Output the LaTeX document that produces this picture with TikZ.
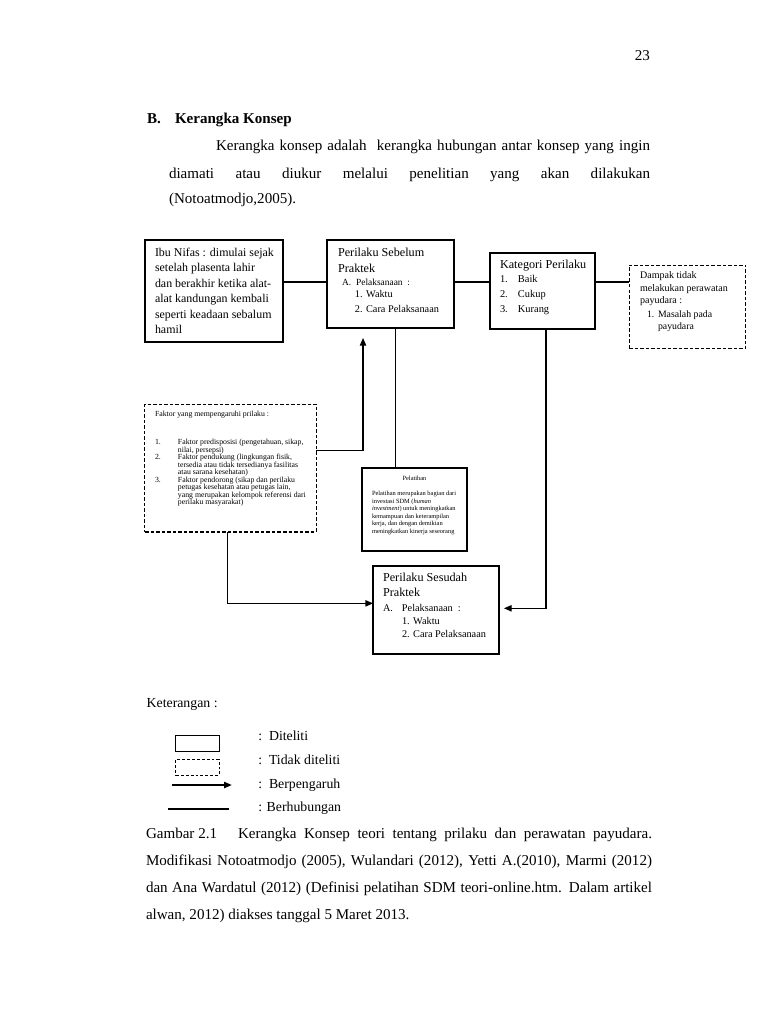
\documentclass[tikz,border=0pt]{standalone}
\usepackage{fontspec}
\setmainfont{Liberation Serif}
\usetikzlibrary{arrows.meta}
\newcommand\fs[2]{\fontsize{#1}{#2}\selectfont}
% first line of a box: #1 baseline from top, #2 size, #3 skip, #4 indent, #5 text
\newcommand\fl[5]{\lineskiplimit=-100pt\lineskip=0pt\vspace*{\dimexpr#1-10pt\relax}{\fontsize{#2}{#3}\selectfont\noindent\rule{0pt}{10pt}\hspace*{#4}\mbox{#5}\par}}
% further line: #1 size, #2 baseline distance, #3 indent, #4 text
\newcommand\tl[4]{{\fontsize{#1}{#2}\selectfont\noindent\hspace*{#3}\mbox{#4}\par}}
\newcommand\bx[3]{\parbox[c][#2][t]{#1}{#3}}
\begin{document}
\begin{tikzpicture}[x=0.797pt,y=-0.797pt,
  box/.style={draw, line width=1pt, inner sep=0pt, outer sep=0pt},
  dbox/.style={draw, line width=0.8pt, dash pattern=on 2.8pt off 1.6pt, inner sep=0pt, outer sep=0pt},
  conn/.style={line width=0.85pt},
  arr/.style={line width=0.85pt, -{Triangle[length=6pt,width=5pt]}},
  txt/.style={inner sep=0pt, outer sep=0pt, anchor=base west, font=\fs{12}{14}},
  txtb/.style={txt, font=\bfseries\fs{12}{14}},
  leg/.style={txt, font=\fs{11}{13}}]
\useasboundingbox (0,0) rectangle (768,1024);
\fill[white] (0,0) rectangle (768,1024);

% page text
\node[txt, anchor=base east] (pg) at (650,60) {23};
\node[txtb] (hB) at (147,123.3) {B.};
\node[txtb] (hK) at (175,123.3) {Kerangka Konsep};
\node[txt] (p1) at (216,150.7) {\makebox[345.9pt][s]{Kerangka konsep adalah \ kerangka hubungan antar konsep yang ingin}};
\node[txt] (p2) at (169,178) {\makebox[383.4pt][s]{diamati atau diukur melalui penelitian yang akan dilakukan}};
\node[txt] (p3) at (169,203) {(Notoatmodjo,2005).};

% boxes
\node[box] (ibu) at (214,291) {\bx{110pt}{81.3pt}{%
  \fl{12.75pt}{9.5}{12.4}{8pt}{Ibu Nifas : dimulai sejak}
  \tl{9.5}{12.4}{8pt}{setelah plasenta lahir}
  \tl{9.5}{12.4}{8pt}{dan berakhir ketika alat-}
  \tl{9.5}{12.4}{8pt}{alat kandungan kembali}
  \tl{9.5}{12.4}{8pt}{seperti keadaan sebalum}
  \tl{9.5}{12.4}{8pt}{hamil}}};

\node[box] (sebelum) at (390.5,284) {\bx{101.2pt}{70.1pt}{%
  \fl{12.75pt}{9.7}{12.75}{8.8pt}{Perilaku Sebelum}
  \tl{9.7}{12.75}{8.8pt}{Praktek}
  \tl{7.5}{10.4}{12pt}{\makebox[11.2pt][l]{A.}Pelaksanaan \ :}
  \tl{8.2}{10.3}{22.3pt}{1. Waktu}
  \tl{8.2}{11.2}{22.3pt}{2. Cara Pelaksanaan}}};

\node[box] (kategori) at (542.5,291) {\bx{83.7pt}{60.6pt}{%
  \fl{12pt}{9.7}{11.7}{8pt}{Kategori Perilaku}
  \tl{8.3}{11.4}{8pt}{\makebox[14.3pt][l]{1.}Baik}
  \tl{8.3}{12}{8pt}{\makebox[14.3pt][l]{2.}Cukup}
  \tl{8.3}{11.9}{8pt}{\makebox[14.3pt][l]{3.}Kurang}}};

\node[dbox] (dampak) at (687.5,307) {\bx{93.2pt}{66.9pt}{%
  \fl{10.4pt}{8}{10}{8.8pt}{Dampak tidak}
  \tl{8}{10.3}{8.8pt}{melakukan perawatan}
  \tl{8}{9.6}{8.8pt}{payudara :}
  \tl{7.8}{11.9}{14.4pt}{\makebox[8.7pt][l]{1.}Masalah pada}
  \tl{7.8}{8.8}{23.1pt}{payudara}}};

\node[dbox] (faktor) at (230.5,468) {\bx{136.3pt}{102pt}{%
  \fl{10.1pt}{6.2}{6}{8pt}{Faktor yang mempengaruhi prilaku :}
  \tl{6.2}{22.3}{8pt}{\makebox[18.3pt][l]{1.}Faktor predisposisi (pengetahuan, sikap,}
  \tl{6.2}{6}{26.3pt}{nilai, persepsi)}
  \tl{6.2}{6}{8pt}{\makebox[18.3pt][l]{2.}Faktor pendukung (lingkungan fisik,}
  \tl{6.2}{6}{26.3pt}{tersedia atau tidak tersedianya fasilitas}
  \tl{6.2}{6}{26.3pt}{atau sarana kesehatan)}
  \tl{6.2}{6}{8pt}{\makebox[18.3pt][l]{3.}Faktor pendorong (sikap dan perilaku}
  \tl{6.2}{6}{26.3pt}{petugas kesehatan atau petugas lain,}
  \tl{6.2}{6}{26.3pt}{yang merupakan kelompok referensi dari}
  \tl{6.2}{6}{26.3pt}{perilaku masyarakat)}}};

\node[box] (pelatihan) at (414.5,509.5) {\bx{83.7pt}{66.1pt}{%
  \fl{9.6pt}{5.1}{6}{0pt}{\makebox[83.7pt][c]{Pelatihan}}
  \tl{5.1}{12.5}{8pt}{Pelatihan merupakan bagian dari}
  \tl{5.1}{5.94}{8pt}{investasi SDM (\textit{human}}
  \tl{5.1}{5.94}{8pt}{\textit{investment}) untuk meningkatkan}
  \tl{5.1}{5.94}{8pt}{kemampuan dan keterampilan}
  \tl{5.1}{5.94}{8pt}{kerja, dan dengan demikian}
  \tl{5.1}{5.94}{8pt}{meningkatkan kinerja seseorang}}};

\node[box] (sesudah) at (436,610) {\bx{100.4pt}{70.1pt}{%
  \fl{12.5pt}{9.7}{12.5}{8pt}{Perilaku Sesudah}
  \tl{9.7}{12}{8pt}{Praktek}
  \tl{8.2}{11.4}{8pt}{\makebox[15.1pt][l]{A.}Pelaksanaan \ :}
  \tl{8.2}{10.3}{23.1pt}{1. Waktu}
  \tl{8.2}{10.6}{23.1pt}{2. Cara Pelaksanaan}}};

% connectors
\coordinate (c1) at ([yshift=1.6pt]sebelum.west);
\draw[conn] (c1) -- (c1 -| ibu.east);
\coordinate (c2) at ([yshift=1.6pt]sebelum.east);
\draw[conn] (c2) -- (c2 -| kategori.west);
\coordinate (c3) at ([yshift=7.2pt]kategori.east);
\draw[conn] (c3) -- (c3 -| dampak.west);
\draw[arr] ([yshift=14.3pt]faktor.east) -| ([xshift=-21.9pt,yshift=-8pt]sebelum.south);
\coordinate (c4) at ([xshift=4pt]sebelum.south);
\draw[conn] (c4) -- (c4 |- pelatihan.north);
\draw[arr] ([xshift=-2.6pt]faktor.south) |- ([yshift=5.3pt]sesudah.west);
\draw[arr, shorten >=4pt] ([xshift=2.8pt]kategori.south) |- ([yshift=1.35pt]sesudah.east);

% legend
\node[leg] (ket) at (146.7,707.3) {Keterangan :};
\node[box, line width=0.8pt, minimum width=34.3pt, minimum height=13.5pt] (lg1) at (197.5,743.5) {};
\node[dbox, dash pattern=on 2.3pt off 1.6pt, minimum width=34.3pt, minimum height=12.75pt] (lg2) at (197.5,767.3) {};
\coordinate (la1) at (171.7,785);
\coordinate (la2) at (231.7,785);
\draw[arr] (la1) -- (la2);
\coordinate (lb1) at (168.3,809);
\coordinate (lb2) at (229.3,809);
\draw[conn] (lb1) -- (lb2);
\node[leg] (t1) at (258.3,740) {:\ \ Diteliti};
\node[leg] (t2) at (258.3,764) {:\ \ Tidak diteliti};
\node[leg] (t3) at (258.3,788.3) {:\ \ Berpengaruh};
\node[leg] (t4) at (258.3,811.7) {: Berhubungan};

% caption
\node[txt] (g1) at (146,838.3) {Gambar 2.1};
\node[txt] (g2) at (238,838.3) {\makebox[330pt][s]{Kerangka Konsep teori tentang prilaku dan perawatan payudara.}};
\node[txt] (g3) at (146,865.7) {\makebox[403.3pt][s]{Modifikasi Notoatmodjo (2005), Wulandari (2012), Yetti A.(2010), Marmi (2012)}};
\node[txt] (g4) at (146,892.3) {\makebox[403.3pt][s]{dan Ana Wardatul (2012) (Definisi pelatihan SDM teori-online.htm. Dalam artikel}};
\node[txt] (g5) at (146,919) {alwan, 2012) diakses tanggal 5 Maret 2013.};
\end{tikzpicture}
\end{document}
